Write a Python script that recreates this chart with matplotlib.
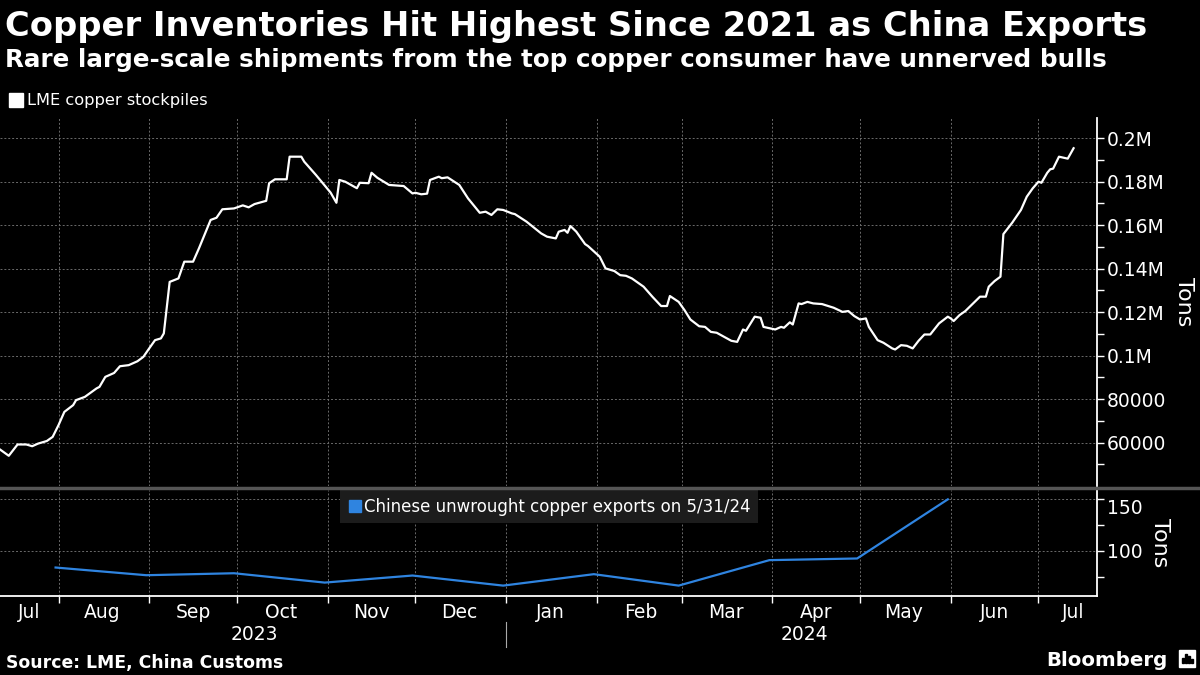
import matplotlib
matplotlib.use("Agg")
import matplotlib.pyplot as plt
import matplotlib.dates as mdates
import matplotlib.transforms as mtransforms
from matplotlib.ticker import FuncFormatter, FixedLocator, FixedFormatter
from matplotlib.lines import Line2D
from matplotlib.patches import Rectangle
import pandas as pd

# ---------------- data ----------------
stock_dates = [
    "2023-07-12", "2023-07-15", "2023-07-18", "2023-07-21", "2023-07-23", "2023-07-25",
    "2023-07-28", "2023-07-30", "2023-08-01", "2023-08-03", "2023-08-06", "2023-08-07",
    "2023-08-10", "2023-08-14", "2023-08-15", "2023-08-17", "2023-08-20", "2023-08-22",
    "2023-08-25", "2023-08-28", "2023-08-30", "2023-09-01", "2023-09-03", "2023-09-05",
    "2023-09-06", "2023-09-08", "2023-09-11", "2023-09-13", "2023-09-16", "2023-09-18",
    "2023-09-22", "2023-09-24", "2023-09-26", "2023-09-30", "2023-10-03", "2023-10-05",
    "2023-10-07", "2023-10-11", "2023-10-12", "2023-10-14", "2023-10-18", "2023-10-19",
    "2023-10-23", "2023-10-24", "2023-10-28", "2023-11-02", "2023-11-04", "2023-11-05",
    "2023-11-07", "2023-11-11", "2023-11-12", "2023-11-15", "2023-11-16", "2023-11-18",
    "2023-11-22", "2023-11-27", "2023-11-30", "2023-12-01", "2023-12-03", "2023-12-05",
    "2023-12-06", "2023-12-09", "2023-12-10", "2023-12-12", "2023-12-16", "2023-12-19",
    "2023-12-23", "2023-12-25", "2023-12-27", "2023-12-29", "2023-12-31", "2024-01-03",
    "2024-01-04", "2024-01-08", "2024-01-13", "2024-01-15", "2024-01-18", "2024-01-19",
    "2024-01-21", "2024-01-22", "2024-01-23", "2024-01-25", "2024-01-28", "2024-01-29",
    "2024-02-02", "2024-02-04", "2024-02-07", "2024-02-09", "2024-02-11", "2024-02-13",
    "2024-02-17", "2024-02-20", "2024-02-23", "2024-02-25", "2024-02-26", "2024-02-29",
    "2024-03-02", "2024-03-04", "2024-03-07", "2024-03-09", "2024-03-11", "2024-03-13",
    "2024-03-16", "2024-03-18", "2024-03-20", "2024-03-22", "2024-03-23", "2024-03-26",
    "2024-03-28", "2024-03-29", "2024-04-02", "2024-04-04", "2024-04-05", "2024-04-07",
    "2024-04-08", "2024-04-10", "2024-04-11", "2024-04-13", "2024-04-15", "2024-04-18",
    "2024-04-22", "2024-04-25", "2024-04-27", "2024-04-29", "2024-05-01", "2024-05-03",
    "2024-05-04", "2024-05-07", "2024-05-09", "2024-05-12", "2024-05-13", "2024-05-15",
    "2024-05-17", "2024-05-19", "2024-05-21", "2024-05-23", "2024-05-25", "2024-05-28",
    "2024-05-31", "2024-06-01", "2024-06-02", "2024-06-04", "2024-06-06", "2024-06-11",
    "2024-06-13", "2024-06-14", "2024-06-16", "2024-06-18", "2024-06-19", "2024-06-22",
    "2024-06-25", "2024-06-27", "2024-06-29", "2024-07-01", "2024-07-02", "2024-07-04",
    "2024-07-05", "2024-07-06", "2024-07-08", "2024-07-09", "2024-07-11", "2024-07-13",
]
stock_values = [
    56800, 53900, 59100, 59100, 58300, 59500,
    60700, 62600, 68000, 74100, 77200, 79500,
    81000, 84900, 85600, 90200, 92000, 95100,
    95600, 97400, 99400, 103300, 107100, 107900,
    110200, 133900, 135500, 143200, 143200, 149300,
    162400, 163400, 167300, 167700, 169100, 168200,
    169700, 171200, 179300, 181100, 181100, 191500,
    191500, 189200, 183100, 175000, 170300, 180800,
    180000, 177000, 179500, 179300, 184100, 181800,
    178500, 178000, 174600, 174900, 174200, 174500,
    180800, 182300, 181600, 182000, 178500, 172300,
    165700, 166200, 164700, 167300, 167000, 165400,
    165100, 161600, 156200, 154700, 153900, 157000,
    157800, 156500, 159600, 157000, 151300, 150400,
    145500, 140100, 138900, 137000, 136700, 135500,
    131700, 127100, 122800, 122800, 127400, 124700,
    120900, 116600, 113500, 113200, 110900, 110500,
    108300, 106800, 106300, 112000, 111400, 117900,
    117400, 113200, 112000, 113200, 112800, 115300,
    114300, 124000, 123700, 124700, 124000, 123700,
    122000, 120100, 120500, 118200, 116600, 117100,
    113200, 107100, 105900, 103300, 102800, 104800,
    104500, 103300, 106800, 109700, 109700, 114800,
    117900, 117100, 115900, 118600, 120500, 127100,
    127100, 131700, 134300, 136300, 155900, 161100,
    167000, 173100, 176900, 180000, 179500, 184100,
    185700, 186000, 191500, 191200, 190600, 195400,
]

export_dates = ["2023-07-31", "2023-08-31", "2023-09-30", "2023-10-31", "2023-11-30",
                "2023-12-31", "2024-01-31", "2024-02-29", "2024-03-31", "2024-04-30",
                "2024-05-31"]
export_values = [83.9, 76.5, 78.4, 69.4, 76.2, 66.5, 77.5, 66.5, 91.0, 92.6, 149.5]

month_labels = ["Jul", "Aug", "Sep", "Oct", "Nov", "Dec", "Jan", "Feb", "Mar",
                "Apr", "May", "Jun", "Jul"]
year_labels = ["2023", "2024"]

title = "Copper Inventories Hit Highest Since 2021 as China Exports"
subtitle = "Rare large-scale shipments from the top copper consumer have unnerved bulls"
stock_label = "LME copper stockpiles"
export_label = "Chinese unwrought copper exports on 5/31/24"
source = "Source: LME, China Customs"

# ---------------- style ----------------
BG = "black"
FG = "white"
BLUE = "#2f84e0"
GRID = "#6a6a6a"
W, H = 1200, 675

plt.rcParams["font.family"] = ["DejaVu Sans"]

fig = plt.figure(figsize=(12, 6.75), dpi=100, facecolor=BG)


def fx(px):
    return px / W


def fy(py):
    return 1 - py / H


ax1 = fig.add_axes([0, fy(486), fx(1097), (486 - 118) / H])
ax2 = fig.add_axes([0, fy(596), fx(1097), (596 - 490) / H], sharex=ax1)

sd = pd.to_datetime(stock_dates)
ed = pd.to_datetime(export_dates)

ax1.plot(sd, stock_values, color=FG, lw=1.6, solid_joinstyle="round")
ax2.plot(ed, export_values, color=BLUE, lw=1.6)

for ax in (ax1, ax2):
    ax.set_facecolor(BG)
    for s in ("top", "left", "bottom"):
        ax.spines[s].set_visible(False)
    ax.spines["right"].set_color(FG)
    ax.spines["right"].set_linewidth(1.3)
    ax.yaxis.tick_right()
    ax.tick_params(axis="y", which="both", colors=FG, labelsize=13.5,
                   length=5, width=1, direction="out", pad=2)
    ax.grid(True, which="major", color=GRID, linestyle=(0, (2, 2)), linewidth=0.7)
    ax.set_axisbelow(True)

ax2.spines["bottom"].set_visible(True)
ax2.spines["bottom"].set_color(FG)
ax2.spines["bottom"].set_linewidth(1.3)

# x axis (shared)
ax1.set_xlim(pd.Timestamp("2023-07-12"), pd.Timestamp("2024-07-21"))
ax2.xaxis.set_major_locator(mdates.MonthLocator())
ax2.xaxis.set_major_formatter(FuncFormatter(lambda v, p: ""))
label_pos = [pd.Timestamp("2023-07-22")] + \
    [pd.Timestamp(y, m, 16) for y, m in [(2023, 8), (2023, 9), (2023, 10), (2023, 11), (2023, 12),
                                        (2024, 1), (2024, 2), (2024, 3), (2024, 4), (2024, 5), (2024, 6)]] + \
    [pd.Timestamp("2024-07-13")]
ax2.xaxis.set_minor_locator(FixedLocator(mdates.date2num(label_pos)))
ax2.xaxis.set_minor_formatter(FixedFormatter(month_labels))
ax2.tick_params(axis="x", which="major", colors=FG, length=5, width=1, direction="out")
ax2.tick_params(axis="x", which="minor", colors=FG, length=0, labelsize=13.5, pad=5)
ax1.tick_params(axis="x", which="both", bottom=False, labelbottom=False)

# y axes
ax1.set_ylim(40000, 209300)
ax1.yaxis.set_major_locator(FixedLocator(range(60000, 200001, 20000)))
ax1.yaxis.set_minor_locator(FixedLocator(range(50000, 200001, 20000)))


def fmt_tons(v, p):
    if v >= 100000:
        return f"{v / 1e6:g}M"
    return f"{int(round(v))}"


ax1.yaxis.set_major_formatter(FuncFormatter(fmt_tons))
ax1.yaxis.set_label_position("right")
ax1.set_ylabel("Tons", color=FG, fontsize=16, rotation=-90, labelpad=20)

ax2.set_ylim(56.5, 158.5)
ax2.yaxis.set_major_locator(FixedLocator([100, 150]))
ax2.yaxis.set_minor_locator(FixedLocator([75, 125]))
ax2.yaxis.set_label_position("right")
ax2.set_ylabel("Tons", color=FG, fontsize=16, rotation=-90, labelpad=20)
ax2.yaxis.get_major_ticks()[1].label2.set_va("top")

# separator between panels
fig.add_artist(Line2D([0, 1], [fy(488), fy(488)], color="#555555", lw=2.5,
                      transform=fig.transFigure))

# year labels and divider
tr = mtransforms.blended_transform_factory(ax2.transData, fig.transFigure)
ax2.text(mdates.date2num(pd.Timestamp("2023-10-07")), fy(634), year_labels[0],
         transform=tr, ha="center", va="center", color=FG, fontsize=13.5)
ax2.text(mdates.date2num(pd.Timestamp("2024-04-12")), fy(634), year_labels[1],
         transform=tr, ha="center", va="center", color=FG, fontsize=13.5)
jan = mdates.date2num(pd.Timestamp("2024-01-01"))
ax2.add_artist(Line2D([jan, jan], [fy(622), fy(647)], color="#aaaaaa", lw=0.8,
                      transform=tr, clip_on=False))

# legends
fig.legend(handles=[Line2D([], [], marker="s", ls="none", color=FG, markersize=10)],
           labels=[stock_label], loc="center left", bbox_to_anchor=(fx(9), fy(101)),
           frameon=False, labelcolor=FG, fontsize=11.7, handletextpad=0.2,
           handlelength=0.9, borderpad=0, borderaxespad=0)
ax2.legend(handles=[Line2D([], [], marker="s", ls="none", color=BLUE, markersize=9)],
           labels=[export_label], loc="upper left", bbox_to_anchor=(340 / 1097, 1.0),
           frameon=True, facecolor="#1c1c1c", edgecolor="none", framealpha=1,
           fancybox=False, labelcolor=FG, fontsize=12, handletextpad=0.1,
           handlelength=0.9, borderpad=0.45, borderaxespad=0)

# titles
fig.text(fx(5), fy(36), title, color=FG, fontsize=24.3, fontweight="bold",
         ha="left", va="baseline")
fig.text(fx(5), fy(67), subtitle, color=FG, fontsize=17.7, fontweight="bold",
         ha="left", va="baseline")
fig.text(fx(6), fy(668), source, color=FG, fontsize=12.4, fontweight="bold",
         ha="left", va="baseline")
fig.text(fx(1168), fy(666), "Bloomberg", color=FG, fontsize=14.2, fontweight="bold",
         ha="right", va="baseline")
fig.add_artist(Rectangle((fx(1179), fy(667)), fx(16), (667 - 650) / H,
                         transform=fig.transFigure, color=FG))
for i, h in enumerate([5, 9, 7, 4]):
    fig.add_artist(Rectangle((fx(1182 + i * 3), fy(663)), fx(1.6), h / H,
                             transform=fig.transFigure, color=BG))

fig.savefig("out.png", dpi=100, facecolor=BG)
